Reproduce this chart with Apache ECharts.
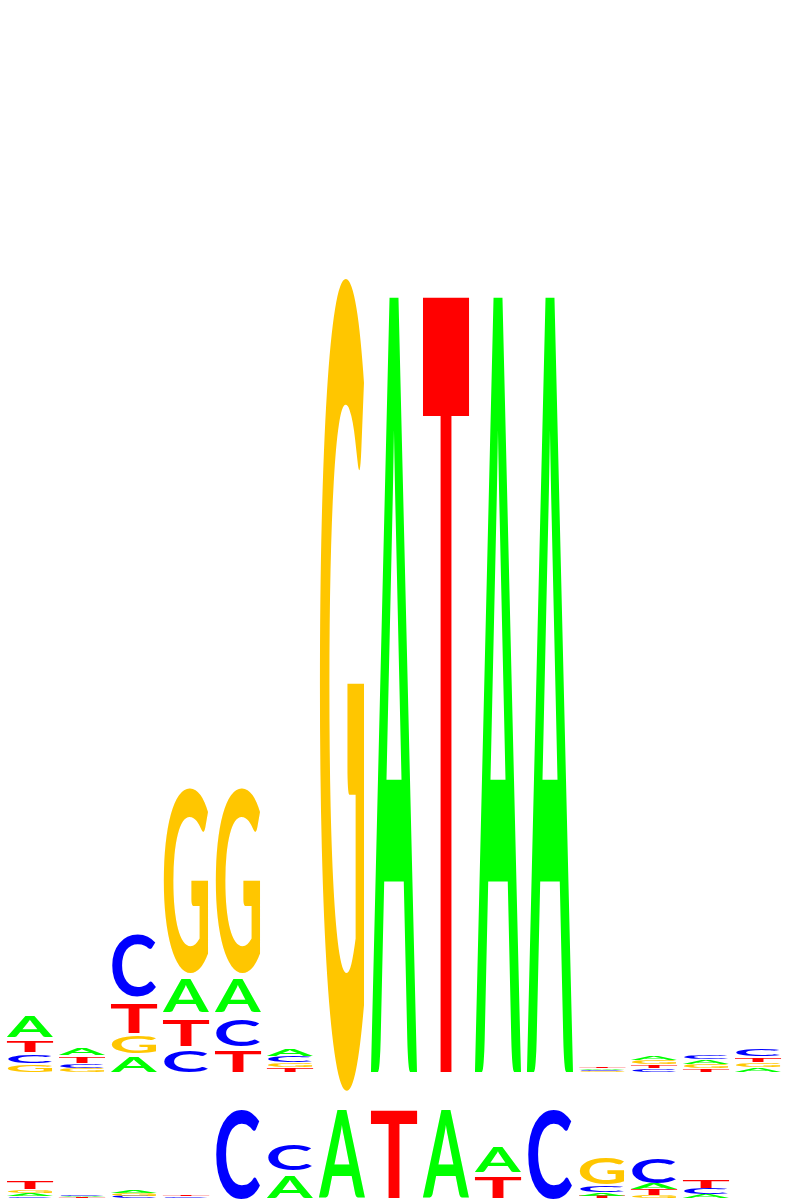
<!DOCTYPE html>
<html>
<head>
<meta charset="utf-8">
<script src="https://cdn.jsdelivr.net/npm/echarts@6/dist/echarts.min.js"></script>
<style>
  html, body { margin: 0; padding: 0; background: #ffffff; }
  #chart { width: 795px; height: 1200px; }
</style>
</head>
<body>
<div id="chart"></div>
<script>
// ---- data (information content in bits per position) ----
const positions = [1, 2, 3, 4, 5, 6, 7, 8, 9, 10, 11, 12, 13, 14, 15];
const letters = ['A', 'C', 'G', 'T'];
const letterColors = { A: '#00ff00', C: '#0000ff', G: '#ffc600', T: '#ff0000' };

// upper logo
const topA = [0.052, 0.018, 0.038, 0.087, 0.087, 0.016, 0, 2, 0, 2, 2, 0.0026, 0.012, 0.010, 0.010];
const topC = [0.022, 0.010, 0.157, 0.052, 0.069, 0.012, 0, 0, 0, 0, 0, 0.0024, 0.008, 0.011, 0.018];
const topG = [0.018, 0.009, 0.040, 0.452, 0.452, 0.0105, 2, 0, 0, 0, 0, 0.0022, 0.0085, 0.009, 0.0105];
const topT = [0.030, 0.0155, 0.075, 0.069, 0.052, 0.010, 0, 0, 2, 0, 0, 0.0028, 0.0082, 0.008, 0.012];

// lower logo
const botA = [0.063, 0.022, 0.072, 0, 0, 0.51, 2, 0, 2, 0.56, 0, 0.072, 0.117, 0.081, 0];
const botC = [0.036, 0.026, 0.045, 0.036, 2, 0.57, 0, 0, 0, 0, 2, 0.135, 0.53, 0.108, 0];
const botG = [0.065, 0, 0.054, 0, 0, 0, 0, 0, 0, 0, 0, 0.595, 0.049, 0, 0];
const botT = [0.18, 0.020, 0, 0.038, 0, 0, 0, 2, 0, 0.47, 0, 0.045, 0.114, 0.198, 0];

const yMax = 2;

// ---- build stacks: smallest letter at the bottom ----
function buildStacks(a, c, g, t) {
  const out = [];
  positions.forEach((p, i) => {
    const items = [
      { l: 0, v: a[i] }, { l: 1, v: c[i] }, { l: 2, v: g[i] }, { l: 3, v: t[i] }
    ].filter(d => d.v > 0).sort((x, y) => x.v - y.v);
    let base = 0;
    items.forEach(d => {
      out.push([p, base, base + d.v, d.l]);
      base += d.v;
    });
  });
  return out;
}

// ---- glyph ink metrics, measured from pixels ----
const FONT = 'bold 400px Lato';
const SZ = 900, OX = 250, OY = 450;
const mcan = document.createElement('canvas');
mcan.width = SZ; mcan.height = SZ;
const mctx = mcan.getContext('2d', { willReadFrequently: true });
function inkBox(L) {
  mctx.clearRect(0, 0, SZ, SZ);
  mctx.font = FONT;
  mctx.textBaseline = 'middle';
  mctx.textAlign = 'left';
  mctx.fillStyle = '#000';
  mctx.fillText(L, OX, OY);
  const d = mctx.getImageData(0, 0, SZ, SZ).data;
  let x0 = SZ, x1 = -1, y0 = SZ, y1 = -1;
  for (let y = 0; y < SZ; y++) {
    for (let x = 0; x < SZ; x++) {
      if (d[(y * SZ + x) * 4 + 3] > 127) {
        if (x < x0) x0 = x; if (x > x1) x1 = x;
        if (y < y0) y0 = y; if (y > y1) y1 = y;
      }
    }
  }
  return { left: OX - x0, right: x1 + 1 - OX, asc: OY - y0, desc: y1 + 1 - OY };
}
const metrics = {};
letters.forEach(L => { metrics[L] = inkBox(L); });

const HALF_W = 0.4423;   // half glyph width in position units
const WIDTH_FACTOR = { A: 1, C: 0.95, G: 0.96, T: 1 };
const HEIGHT_FACTOR = { A: 1, C: 1.03, G: 1.047, T: 1 };  // round letters overshoot
const INK = 0.78;        // share of the stack box filled by the glyph

function renderLetter(params, api) {
  const pos = api.value(0), y0 = api.value(1), y1 = api.value(2);
  const L = letters[api.value(3)];
  const hw = HALF_W * WIDTH_FACTOR[L];
  const pL = api.coord([pos - hw, y0]);
  const pR = api.coord([pos + hw, y1]);
  const xL = pL[0], yb = pL[1];
  const W = pR[0] - xL;
  const boxH = yb - pR[1];
  const inkH = boxH * INK;
  if (inkH <= 0.05) return null;
  const center = yb - inkH / 2;
  const m = metrics[L];
  const glyphH = m.asc + m.desc;
  const sx = W / (m.left + m.right);
  const sy = inkH * HEIGHT_FACTOR[L] / glyphH;
  return {
    type: 'text',
    x: xL + m.left * sx,
    y: center - glyphH * sy / 2 + m.asc * sy,
    scaleX: sx,
    scaleY: sy,
    silent: true,
    style: {
      text: L,
      x: 0,
      y: 0,
      font: FONT,
      fill: letterColors[L],
      align: 'left',
      verticalAlign: 'middle',
      textAlign: 'left',
      textVerticalAlign: 'middle'
    }
  };
}

const chart = echarts.init(document.getElementById('chart'), null, { renderer: 'canvas' });
chart.setOption({
  animation: false,
  backgroundColor: '#ffffff',
  grid: [
    { left: 4, width: 780, top: 80, height: 992 },
    { left: 4, width: 780, top: 1087, height: 111 }
  ],
  xAxis: [
    { type: 'value', gridIndex: 0, min: 0.5, max: 15.5, show: false },
    { type: 'value', gridIndex: 1, min: 0.5, max: 15.5, show: false }
  ],
  yAxis: [
    { type: 'value', gridIndex: 0, min: 0, max: yMax, show: false },
    { type: 'value', gridIndex: 1, min: 0, max: yMax, show: false }
  ],
  series: [
    {
      type: 'custom', xAxisIndex: 0, yAxisIndex: 0, clip: false,
      renderItem: renderLetter, data: buildStacks(topA, topC, topG, topT)
    },
    {
      type: 'custom', xAxisIndex: 1, yAxisIndex: 1, clip: false,
      renderItem: renderLetter, data: buildStacks(botA, botC, botG, botT)
    }
  ]
});
</script>
</body>
</html>
